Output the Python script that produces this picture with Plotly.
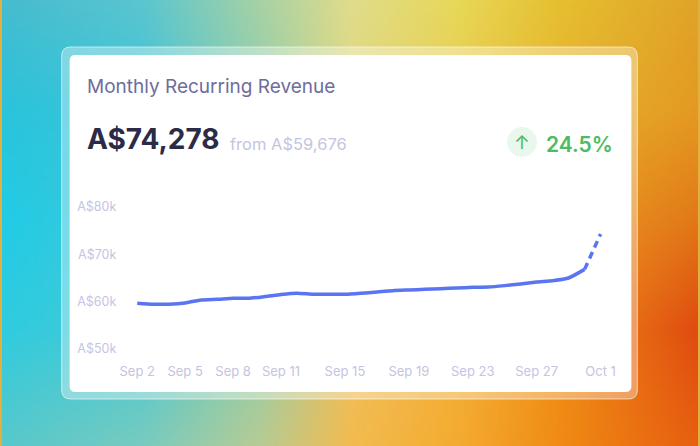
import base64
import struct
import zlib

import numpy as np
import pandas as pd
import plotly.graph_objects as go

W, H = 700, 446

# daily MRR, Sep 2 -> Oct 1 (last day is the projected / dashed bit)
days = pd.date_range("2024-09-02", "2024-10-01", freq="D")
mrr = [59676, 59460, 59460, 59740, 60370, 60510, 60720, 60720, 61070, 61490,
       61770, 61560, 61560, 61560, 61770, 62050, 62330, 62470, 62610, 62750,
       62890, 63030, 63100, 63390, 63740, 64160, 64440, 65000, 66820, 74278]

x_ticks = ["2024-09-02", "2024-09-05", "2024-09-08", "2024-09-11", "2024-09-15",
           "2024-09-19", "2024-09-23", "2024-09-27", "2024-10-01"]
x_labels = ["Sep 2", "Sep 5", "Sep 8", "Sep 11", "Sep 15",
            "Sep 19", "Sep 23", "Sep 27", "Oct 1"]
y_ticks = [50000, 60000, 70000, 80000]
y_labels = ["A$50k", "A$60k", "A$70k", "A$80k"]

title = "Monthly Recurring Revenue"
current = "A$74,278"
previous = "from A$59,676"
change = "24.5%"


def px(x):
    return x / W


def py(y):
    return 1 - y / H


def hex_rgb(h):
    h = h.lstrip("#")
    return [int(h[i:i + 2], 16) for i in (0, 2, 4)]


# background gradient, built as a small png and stretched by the browser
bg_cols = [0, 140, 260, 350, 460, 560, 700]
bg_rows = [0, 110, 223, 330, 446]
bg_grid = [
    ["#46bccf", "#5ac6d0", "#a8d2a4", "#e0dc8c", "#e8d858", "#e6c030", "#e0a428"],
    ["#2ac4dc", "#40c4d8", "#90cfb0", "#e0d880", "#e8cc50", "#e6b430", "#e49a22"],
    ["#22cce6", "#40c8d8", "#88ccb0", "#e4c870", "#f0b440", "#ec9c24", "#e27818"],
    ["#30cce0", "#48c8d4", "#90cca8", "#f0c060", "#f4ae38", "#f0901a", "#e04c10"],
    ["#58c8cc", "#78cbc0", "#b8cc94", "#f2bc50", "#f4ac30", "#f08c14", "#e86010"],
]


def background_uri(w=140, h=90):
    g = np.array([[hex_rgb(c) for c in row] for row in bg_grid], dtype=float)
    xs = np.linspace(0, W, w)
    ys = np.linspace(0, H, h)
    # interpolate along x for each control row, then along y
    tmp = np.stack([np.stack([np.interp(xs, bg_cols, g[r, :, k]) for k in range(3)], -1)
                    for r in range(len(bg_rows))])
    img = np.stack([np.stack([np.interp(ys, bg_rows, tmp[:, i, k]) for k in range(3)], -1)
                    for i in range(w)], 1)
    img = img.clip(0, 255).astype(np.uint8)
    raw = b"".join(b"\x00" + img[r].tobytes() for r in range(h))

    def chunk(t, d):
        c = struct.pack(">I", len(d)) + t + d
        return c + struct.pack(">I", zlib.crc32(t + d) & 0xffffffff)

    png = (b"\x89PNG\r\n\x1a\n"
           + chunk(b"IHDR", struct.pack(">IIBBBBB", w, h, 8, 2, 0, 0, 0))
           + chunk(b"IDAT", zlib.compress(raw, 9))
           + chunk(b"IEND", b""))
    return "data:image/png;base64," + base64.b64encode(png).decode()


def rounded(x0, y0, x1, y1, r):
    pts = [
        ("M", x0 + r, y0), ("L", x1 - r, y0), ("Q", x1, y0, x1, y0 + r),
        ("L", x1, y1 - r), ("Q", x1, y1, x1 - r, y1), ("L", x0 + r, y1),
        ("Q", x0, y1, x0, y1 - r), ("L", x0, y0 + r), ("Q", x0, y0, x0 + r, y0),
    ]
    out = ""
    for p in pts:
        cmd, vals = p[0], p[1:]
        coords = []
        for i in range(0, len(vals), 2):
            coords.append("%.5f,%.5f" % (px(vals[i]), py(vals[i + 1])))
        out += cmd + " ".join(coords) + " "
    return out + "Z"


line_color = "#5b74f1"

fig = go.Figure()
fig.add_trace(go.Scatter(
    x=days[:29], y=mrr[:29], mode="lines",
    line=dict(color=line_color, width=3.5, shape="spline", smoothing=0.5),
    hoverinfo="skip",
))
fig.add_trace(go.Scatter(
    x=days[28:], y=mrr[28:], mode="lines",
    line=dict(color=line_color, width=3.5, dash="7px,5px"),
    hoverinfo="skip",
))

# plot area: Sep 2 sits at x=136, 16.07 px per day; 80k at y=207, 47.33 px per 10k
fig.update_xaxes(
    domain=[px(120), px(615)],
    range=["2024-09-01 00:06", "2024-10-01 19:25"],
    tickvals=x_ticks, ticktext=x_labels,
    showgrid=False, zeroline=False, showline=False, ticks="",
    tickfont=dict(size=13, color="#c5c4e2", family="Inter"),
    ticklabelstandoff=2, fixedrange=True,
)
fig.update_yaxes(
    domain=[py(360), py(195)],
    range=[47676, 82535],
    tickvals=y_ticks, ticktext=y_labels,
    showgrid=False, zeroline=False, showline=False, ticks="",
    tickfont=dict(size=12.5, color="#c5c4e2", family="Inter"),
    ticklabelstandoff=4, fixedrange=True,
)

shapes = [
    dict(type="path", xref="paper", yref="paper", layer="below",
         path=rounded(60, 47, 639, 399, 9),
         fillcolor="rgba(255,255,255,0.34)", line=dict(color="rgba(255,255,255,0.6)", width=1)),
    dict(type="path", xref="paper", yref="paper", layer="below",
         path=rounded(68, 55, 633, 392, 6),
         fillcolor="#ffffff", line=dict(width=0)),
    dict(type="circle", xref="paper", yref="paper", layer="below",
         x0=px(508), x1=px(538), y0=py(157), y1=py(127),
         fillcolor="#eaf7ed", line=dict(width=0)),
]

annotations = [
    dict(text=title, x=px(83), y=py(86), xanchor="left", yanchor="middle",
         font=dict(size=19, color="#6e6d9c", family="Inter")),
    dict(text="<b>" + current + "</b>", x=px(83), y=py(139), xanchor="left", yanchor="middle",
         font=dict(size=28, color="#2b2b48", family="Inter")),
    dict(text=previous, x=px(227), y=py(144), xanchor="left", yanchor="middle",
         font=dict(size=16.5, color="#c5c4e0", family="Inter")),
    dict(text="↑", x=px(523), y=py(142), xanchor="center", yanchor="middle",
         font=dict(size=19, color="#4dbb63", family="Inter")),
    dict(text=change, x=px(617), y=py(144), xanchor="right", yanchor="middle",
         font=dict(size=21, color="#4dbb63", family="Inter", weight=600)),
]
for a in annotations:
    a.update(xref="paper", yref="paper", showarrow=False)

fig.update_layout(
    width=W, height=H,
    margin=dict(l=0, r=0, t=0, b=0),
    paper_bgcolor="#e0b040",
    plot_bgcolor="rgba(0,0,0,0)",
    showlegend=False,
    shapes=shapes,
    annotations=annotations,
    images=[dict(source=background_uri(), xref="paper", yref="paper",
                 x=0, y=1, sizex=1, sizey=1, xanchor="left", yanchor="top",
                 sizing="stretch", layer="below")],
    font=dict(family="Inter"),
)

# the page body has a default margin, drop it so the figure fills the window
fig.write_html("out.html", config={"displayModeBar": False},
               post_script="document.body.style.margin='0px';")
